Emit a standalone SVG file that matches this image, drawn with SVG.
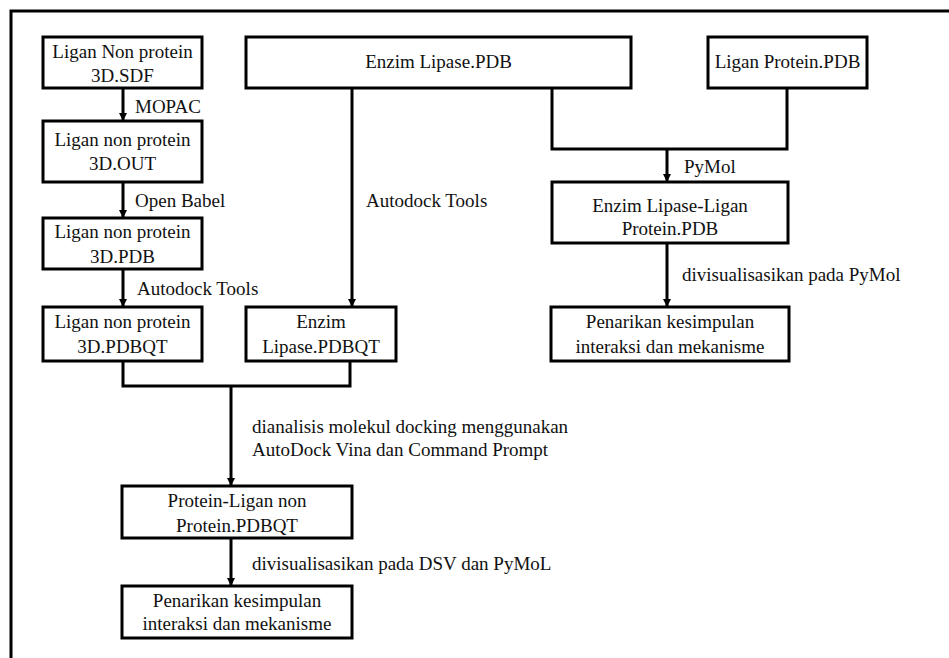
<svg xmlns="http://www.w3.org/2000/svg" width="949" height="658" viewBox="0 0 949 658">
<style>
.box{fill:#fff;stroke:#000;stroke-width:3}
.ln{fill:none;stroke:#000;stroke-width:3}
.c{text-anchor:middle}
</style>
<defs>
<marker id="ah" markerWidth="8" markerHeight="8" refX="7" refY="4" orient="auto" markerUnits="userSpaceOnUse">
<path d="M0,0 L8,4 L0,8 Z" fill="#000"/>
</marker>
</defs>
<rect width="949" height="658" fill="#fff"/>
<path class="ln" d="M11,658 V11 H949"/>
<g font-family="Liberation Serif, DejaVu Serif, serif" font-size="19" fill="#111">
<g id="connectors">
<line class="ln" x1="123" y1="88" x2="123" y2="120" marker-end="url(#ah)"/>
<line class="ln" x1="123" y1="182" x2="123" y2="217" marker-end="url(#ah)"/>
<line class="ln" x1="123" y1="269" x2="123" y2="306" marker-end="url(#ah)"/>
<line class="ln" x1="352" y1="88" x2="352" y2="306" marker-end="url(#ah)"/>
<path class="ln" d="M552,88 V149 H787 V88"/>
<line class="ln" x1="667" y1="149" x2="667" y2="181" marker-end="url(#ah)"/>
<line class="ln" x1="667" y1="243" x2="667" y2="306" marker-end="url(#ah)"/>
<path class="ln" d="M123,361 V386 H350 V361"/>
<line class="ln" x1="231" y1="386" x2="231" y2="485" marker-end="url(#ah)"/>
<line class="ln" x1="231" y1="538" x2="231" y2="585" marker-end="url(#ah)"/>
<text x="135" y="113">MOPAC</text>
<text x="135" y="207">Open Babel</text>
<text x="137" y="295">Autodock Tools</text>
<text x="366" y="207">Autodock Tools</text>
<text x="684" y="173">PyMol</text>
<text x="682" y="281">divisualisasikan pada PyMol</text>
<text x="252" y="433">dianalisis molekul docking menggunakan</text>
<text x="252" y="456">AutoDock Vina dan Command Prompt</text>
<text x="252" y="570">divisualisasikan pada DSV dan PyMoL</text>
</g>
<g id="n1"><rect class="box" x="43" y="37" width="159" height="51"/><text class="c" x="122.5" y="58">Ligan Non protein</text><text class="c" x="122.5" y="82">3D.SDF</text></g>
<g id="n2"><rect class="box" x="43" y="121" width="159" height="61"/><text class="c" x="122.5" y="146">Ligan non protein</text><text class="c" x="122.5" y="170">3D.OUT</text></g>
<g id="n3"><rect class="box" x="43" y="218" width="159" height="51"/><text class="c" x="122.5" y="238">Ligan non protein</text><text class="c" x="122.5" y="263">3D.PDB</text></g>
<g id="n4"><rect class="box" x="43" y="307" width="159" height="54"/><text class="c" x="122.5" y="328">Ligan non protein</text><text class="c" x="122.5" y="353">3D.PDBQT</text></g>
<g id="n5"><rect class="box" x="246" y="307" width="150" height="54"/><text class="c" x="321" y="328">Enzim</text><text class="c" x="321" y="353">Lipase.PDBQT</text></g>
<g id="n6"><rect class="box" x="246" y="37" width="385" height="51"/><text class="c" x="438.5" y="68">Enzim Lipase.PDB</text></g>
<g id="n7"><rect class="box" x="708" y="37" width="159" height="51"/><text class="c" x="787.5" y="68">Ligan Protein.PDB</text></g>
<g id="n8"><rect class="box" x="552" y="182" width="236" height="61"/><text class="c" x="670" y="212">Enzim Lipase-Ligan</text><text class="c" x="670" y="235">Protein.PDB</text></g>
<g id="n9"><rect class="box" x="551" y="307" width="238" height="54"/><text class="c" x="670" y="328">Penarikan kesimpulan</text><text class="c" x="670" y="353">interaksi dan mekanisme</text></g>
<g id="n10"><rect class="box" x="122" y="486" width="230" height="52"/><text class="c" x="237" y="507">Protein-Ligan non</text><text class="c" x="237" y="532">Protein.PDBQT</text></g>
<g id="n11"><rect class="box" x="122" y="586" width="230" height="52"/><text class="c" x="237" y="607">Penarikan kesimpulan</text><text class="c" x="237" y="630">interaksi dan mekanisme</text></g>
</g>
</svg>
